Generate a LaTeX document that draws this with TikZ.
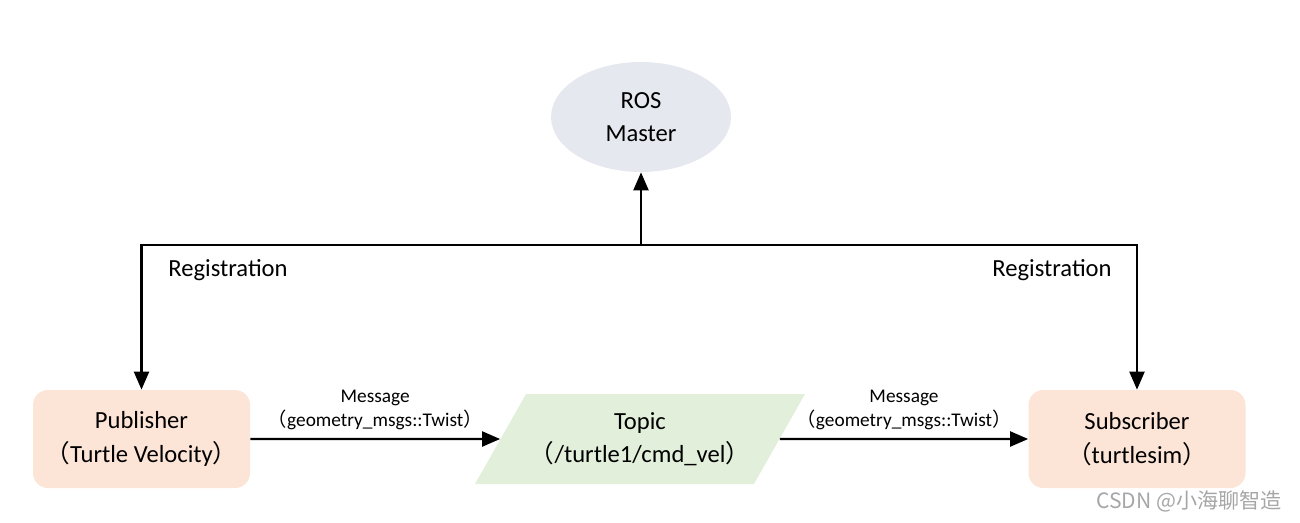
\documentclass[tikz,border=0pt]{standalone}
\usepackage{fontspec}
\setmainfont{Carlito}
\newfontfamily\cjk{Noto Sans CJK SC}
\usetikzlibrary{shapes.geometric,arrows.meta}
\definecolor{masterfill}{HTML}{E5E8EF}
\definecolor{nodefill}{HTML}{FCE4D6}
\definecolor{topicfill}{HTML}{E2EFDA}
\newcommand{\zlp}{{\cjk （}}
\newcommand{\zrp}{{\cjk ）}}
\begin{document}
\begin{tikzpicture}[master/.style = {ellipse,fill=masterfill,minimum width=3.6cm,minimum height=2.2cm,inner sep=0pt,align=center,font=\fontsize{14}{19}\selectfont},
rosnode/.style = {rounded corners=0.3cm,fill=nodefill,minimum width=4.34cm,minimum height=1.96cm,align=center,font=\fontsize{14}{19}\selectfont},
topicbox/.style = {trapezium,trapezium left angle=52,trapezium right angle=128,trapezium stretches body=true,fill=topicfill,minimum width=6.6cm,minimum height=1.8cm,inner xsep=0pt,align=center,font=\fontsize{14}{19}\selectfont},
link/.style = {line width=1.25pt,-{Triangle[length=0.36cm,width=0.3cm]}},
msglabel/.style = {above=1pt,align=center,font=\fontsize{11}{14}\selectfont},
reglabel/.style = {font=\fontsize{14}{17}\selectfont}]
\useasboundingbox (0,0) rectangle (26,10.44);
\node[master] (M) at (12.82,8.1) {ROS\\Master};
\node[rosnode] (P) at (2.83,1.66) {Publisher\\\zlp Turtle Velocity\zrp};
\node[rosnode] (S) at (22.74,1.66) {Subscriber\\\zlp turtlesim\zrp};
\node[topicbox] (T) at (12.8,1.66) {Topic\\\zlp /turtle1/cmd\_vel\zrp};
\coordinate (J) at (12.82,5.54);
\node[reglabel] (RL) at (4.56,5.04) {Registration};
\node[reglabel] (RR) at (21.04,5.04) {Registration};
\node[anchor=east,text=gray!70,font=\cjk\fontsize{12}{14}\selectfont] (W) at (25.76,0.42) {CSDN @小海聊智造};

\draw[link] (J) -- (M);
\draw[link] (J) -| (P);
\draw[link] (J) -| (S);
\draw[link] (P) -- node[msglabel] {Message\\\zlp geometry\_msgs::Twist\zrp} (T);
\draw[link] (T) -- node[msglabel] {Message\\\zlp geometry\_msgs::Twist\zrp} (S);
\end{tikzpicture}
\end{document}
